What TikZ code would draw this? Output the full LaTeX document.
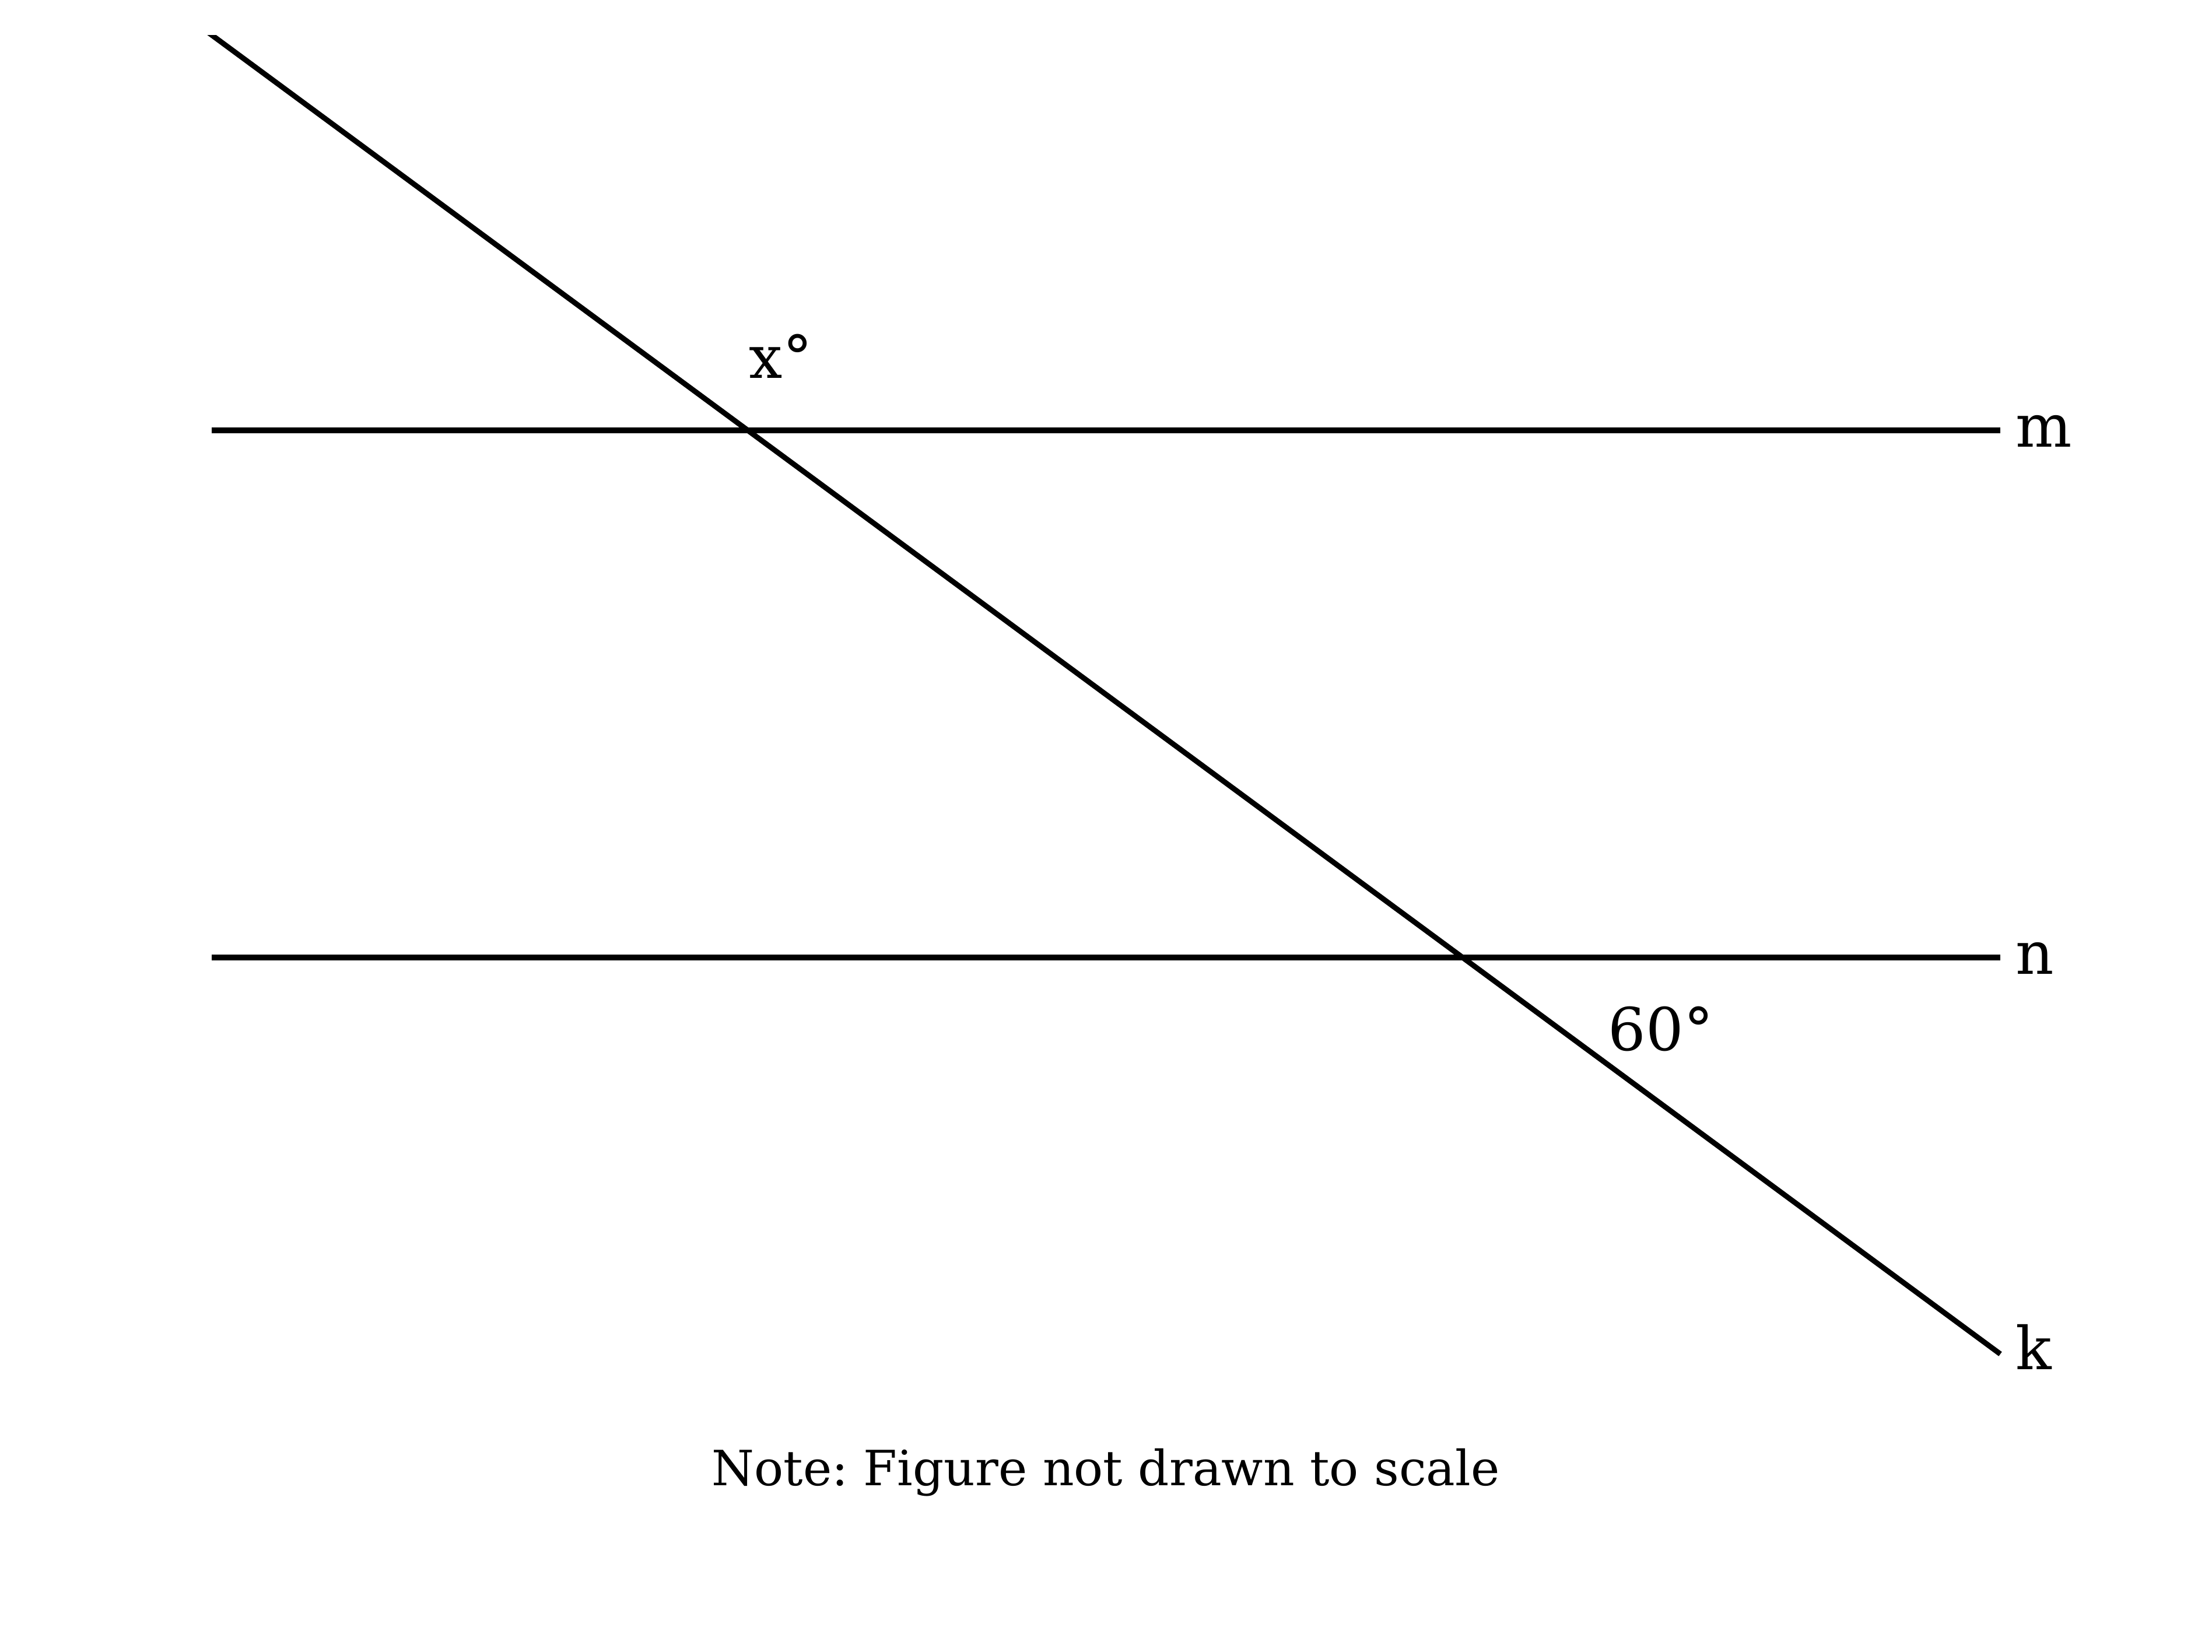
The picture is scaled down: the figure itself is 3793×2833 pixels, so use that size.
\documentclass[tikz,border=0pt]{standalone}
\usepackage{fontspec}
\setmainfont{DejaVu Serif}
\usepackage{tikz}
\frenchspacing

\begin{document}
\begin{tikzpicture}[x=0.01cm, y=-0.01cm,
		geoline/.style={line width=2.6pt, line cap=butt},
		linelabel/.style={anchor=base west, inner sep=0pt, font=\fontsize{28.9}{34}\selectfont},
		notelabel/.style={anchor=base, inner sep=0pt, font=\fontsize{23.7}{28}\selectfont}
		]
		\useasboundingbox (0,0) rectangle (3793,2833);
		
		\coordinate (mL) at (363,738);
		\coordinate (mR) at (3430,738);
		\coordinate (nL) at (363,1642);
		\coordinate (nR) at (3430,1642);
		\coordinate (kT) at (283,1);
		\coordinate (kB) at (3430,2322);
		
		\draw[geoline] (mL) -- (mR);
		\draw[geoline] (nL) -- (nR);
		\begin{scope}
			\clip (0,60) rectangle (3793,2833);
			\draw[geoline] (kT) -- (kB);
		\end{scope}
		
		\node[linelabel](M) at (3456,766){m};
		\node[linelabel](N) at (3456,1670){n};
		\node[linelabel](K) at (3456,2348){k};
		\node[linelabel](X) at (1284,648){x°};
		\node[linelabel](A) at (2757,1801){60°};
		
		\node[notelabel](note) at (1896,2547){Note: Figure not drawn to scale};
	\end{tikzpicture}
\end{document}
